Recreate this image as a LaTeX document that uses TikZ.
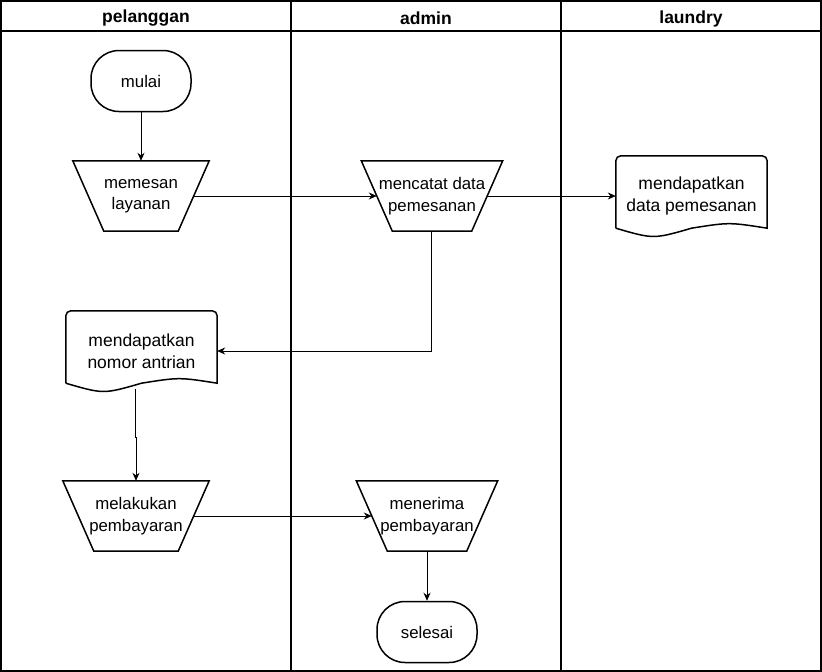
\documentclass[tikz,border=0pt]{standalone}
\usepackage{fontspec}
\setmainfont{Liberation Sans}
\usetikzlibrary{arrows.meta, positioning}
\newcommand{\boxfont}{\fontsize{16.8}{21.5}\selectfont}
\newcommand{\docfont}{\fontsize{17.5}{21.5}\selectfont}
\newcommand{\headfont}{\fontsize{17.5}{21}\selectfont\bfseries}
\tikzset{
  lane/.style={line width=2pt},
  outline/.style={line width=1.5pt},
  head/.style={font=\headfont},
  term/.style={draw, line width=1.5pt, rounded corners=28pt, minimum width=100pt, minimum height=61pt, font=\boxfont},
  manop/.style={minimum width=138pt, minimum height=70pt, inner sep=0pt, align=center, font=\boxfont},
  doc/.style={minimum width=151pt, minimum height=80pt, inner sep=0pt, align=center, font=\docfont},
  flow/.style={-{Stealth[length=8pt, width=7pt]}, line width=0.8pt}
}
% trapezoid outline of a manual step
\newcommand{\manopline}[1]{%
  \draw[outline] (#1.north west) -- (#1.north east) -- ([xshift=-31pt]#1.south east) -- ([xshift=31pt]#1.south west) -- cycle;}
% document outline with wavy bottom
\newcommand{\docline}[1]{%
  \draw[outline] ([yshift=8pt]#1.south west) [rounded corners=5pt] -- (#1.north west) -- (#1.north east) [sharp corners] -- ([yshift=8pt]#1.south east)
    .. controls +(-38,-6) .. ([yshift=8pt]#1.south) .. controls +(-38,11) .. ([yshift=8pt]#1.south west);}
\begin{document}
\begin{tikzpicture}[x=1pt, y=-1pt]
  \useasboundingbox (0,0) rectangle (822,672);
%% lanes
  \draw[lane] (1,1) rectangle (821,671);
  \draw[lane] (1,31) -- (821,31);
  \draw[lane] (291,1) -- (291,671);
  \draw[lane] (561,1) -- (561,671);
  \node[head] (hpel) at (146,18.5) {pelanggan};
  \node[head] (hadm) at (426,18.5) {admin};
  \node[head] (hlau) at (691,18.5) {laundry};
%% pelanggan
  \node[term] (mulai) at (141,81) {mulai};
  \node[manop, minimum width=136pt] (memesan) at (141,196) {memesan\\layanan};
  \node[doc] (antrian) at (141.5,351) {mendapatkan\\nomor antrian};
  \node[manop, minimum width=146pt] (melakukan) at (136,516) {melakukan\\pembayaran};
%% admin
  \node[manop, minimum width=141pt] (mencatat) at (432,196) {mencatat data\\pemesanan};
  \node[manop, minimum width=141pt] (menerima) at (427,516) {menerima\\pembayaran};
  \node[term] (selesai) at (427,632) {selesai};
%% laundry
  \node[doc] (dpesan) at (691.5,196) {mendapatkan\\data pemesanan};
%% outlines
  \manopline{memesan}
  \manopline{melakukan}
  \manopline{mencatat}
  \manopline{menerima}
  \docline{antrian}
  \docline{dpesan}
%% arrows
  \draw[flow] (mulai) -- (memesan.north);
  \draw[flow] ([xshift=-15.5pt]memesan.east) -- ([xshift=15.5pt]mencatat.west);
  \draw[flow] ([xshift=-15.5pt]mencatat.east) -- (dpesan.west);
  \draw[flow] ([xshift=31pt]mencatat.south west) ++(39,0) |- (antrian.east);
  \draw[flow] ([xshift=-6pt,yshift=2pt]antrian.south) -- ++(0,48) -| (melakukan.north);
  \draw[flow] ([xshift=-16pt]melakukan.east) -- ([xshift=15.5pt]menerima.west);
  \draw[flow] (menerima.south) -- (selesai.north);
\end{tikzpicture}
\end{document}
